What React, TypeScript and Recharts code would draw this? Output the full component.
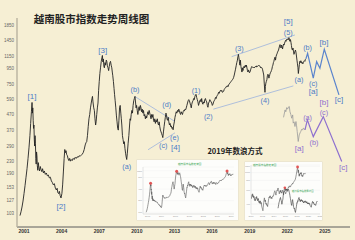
import React from "react";
import { LineChart, Line, XAxis, YAxis, CartesianGrid, ReferenceDot } from "recharts";

type Pt = [number, number];
type Lbl = [string, number, number];

// weekly close of the VN-Index
const vnIndex: Pt[] = [
  [2000.68, 100], [2000.76, 106], [2000.84, 114], [2000.92, 125], [2001.0, 140], [2001.08, 158], [2001.16, 180],
  [2001.24, 205], [2001.32, 240], [2001.4, 285], [2001.47, 340], [2001.53, 410], [2001.59, 490], [2001.64, 565],
  [2001.67, 480], [2001.7, 520], [2001.73, 430], [2001.76, 380], [2001.79, 400], [2001.82, 320], [2001.85, 290],
  [2001.88, 340], [2001.91, 300], [2001.94, 240], [2001.97, 220], [2002.0, 265], [2002.03, 250], [2002.06, 215],
  [2002.1, 200], [2002.14, 225], [2002.18, 210], [2002.24, 198], [2002.3, 212], [2002.36, 202], [2002.42, 196],
  [2002.48, 205], [2002.55, 192], [2002.62, 198], [2002.7, 188], [2002.78, 192], [2002.86, 184], [2002.94, 186],
  [2003.02, 178], [2003.1, 180], [2003.18, 170], [2003.26, 166], [2003.34, 160], [2003.42, 163], [2003.5, 152],
  [2003.58, 148], [2003.64, 152], [2003.7, 142], [2003.76, 140], [2003.82, 145], [2003.88, 136], [2003.95, 131],
  [2004.02, 140], [2004.08, 160], [2004.14, 195], [2004.2, 240], [2004.25, 275], [2004.3, 262], [2004.35, 270],
  [2004.4, 255], [2004.46, 250], [2004.52, 238], [2004.58, 232], [2004.64, 240], [2004.7, 230], [2004.76, 236],
  [2004.84, 232], [2004.92, 240], [2005.0, 236], [2005.08, 244], [2005.16, 240], [2005.24, 246], [2005.32, 244],
  [2005.4, 250], [2005.48, 248], [2005.56, 252], [2005.64, 256], [2005.72, 262], [2005.8, 275], [2005.88, 295],
  [2005.94, 305], [2006.0, 310], [2006.06, 340], [2006.12, 390], [2006.18, 440], [2006.24, 470], [2006.3, 520],
  [2006.36, 560], [2006.42, 600], [2006.46, 620], [2006.5, 570], [2006.56, 520], [2006.61, 500], [2006.66, 440],
  [2006.71, 400], [2006.75, 420], [2006.8, 470], [2006.85, 520], [2006.9, 560], [2006.95, 680], [2007.0, 780],
  [2007.05, 880], [2007.1, 960], [2007.16, 1060], [2007.22, 1130], [2007.25, 1160],
  [2007.29, 1050], [2007.33, 1100], [2007.37, 980], [2007.41, 960], [2007.46, 1040], [2007.51, 1000], [2007.56, 1080],
  [2007.6, 1060], [2007.65, 990], [2007.7, 960], [2007.75, 920], [2007.8, 980], [2007.85, 1040], [2007.9, 1060],
  [2007.95, 1000], [2008.0, 960], [2008.04, 900], [2008.08, 850], [2008.13, 780], [2008.18, 700], [2008.22, 640],
  [2008.27, 580], [2008.32, 520], [2008.37, 460], [2008.42, 420], [2008.47, 380], [2008.52, 370], [2008.57, 430],
  [2008.62, 520], [2008.67, 540], [2008.72, 480], [2008.76, 440], [2008.8, 400], [2008.85, 340], [2008.9, 320],
  [2008.95, 300], [2009.0, 310], [2009.05, 280], [2009.1, 260], [2009.15, 245], [2009.19, 236],
  [2009.24, 260], [2009.3, 300], [2009.36, 340], [2009.42, 400], [2009.46, 440], [2009.5, 430], [2009.55, 470],
  [2009.6, 500], [2009.65, 480], [2009.7, 540], [2009.75, 580], [2009.8, 600], [2009.85, 620],
  [2009.9, 560], [2009.94, 520], [2009.98, 540], [2010.03, 500], [2010.08, 470], [2010.13, 510], [2010.18, 530],
  [2010.23, 500], [2010.28, 540], [2010.33, 520], [2010.38, 490], [2010.43, 510], [2010.48, 480], [2010.53, 500],
  [2010.58, 460], [2010.63, 470], [2010.68, 440], [2010.73, 460], [2010.78, 445], [2010.83, 470], [2010.88, 490],
  [2010.93, 470], [2010.98, 500], [2011.03, 480], [2011.08, 460], [2011.13, 440], [2011.18, 470], [2011.23, 450],
  [2011.28, 470], [2011.33, 430], [2011.38, 420], [2011.43, 440], [2011.48, 410], [2011.53, 430], [2011.58, 420],
  [2011.63, 440], [2011.68, 410], [2011.73, 400], [2011.78, 420], [2011.83, 390], [2011.88, 370], [2011.93, 360],
  [2011.98, 350], [2012.03, 340], [2012.07, 330],
  [2012.12, 360], [2012.17, 390], [2012.22, 420], [2012.27, 450], [2012.32, 480], [2012.36, 470], [2012.4, 440],
  [2012.45, 430], [2012.5, 450], [2012.55, 420], [2012.6, 400], [2012.65, 410], [2012.7, 390], [2012.75, 395],
  [2012.8, 380], [2012.85, 385], [2012.89, 372],
  [2012.94, 400], [2012.99, 420], [2013.04, 450], [2013.09, 470], [2013.14, 490], [2013.19, 480], [2013.24, 500],
  [2013.29, 490], [2013.34, 510], [2013.39, 500], [2013.44, 480], [2013.49, 470], [2013.54, 490], [2013.59, 480],
  [2013.64, 470], [2013.69, 490], [2013.74, 500], [2013.79, 495], [2013.84, 510], [2013.89, 505], [2013.94, 520],
  [2013.99, 540], [2014.04, 560], [2014.09, 580], [2014.14, 590], [2014.19, 580], [2014.24, 560], [2014.29, 540],
  [2014.34, 520], [2014.38, 550], [2014.43, 570], [2014.48, 580], [2014.53, 600], [2014.58, 590], [2014.63, 620],
  [2014.68, 635], [2014.72, 640],
  [2014.77, 610], [2014.82, 590], [2014.87, 570], [2014.92, 540], [2014.97, 560], [2015.02, 580], [2015.07, 590],
  [2015.12, 570], [2015.17, 600], [2015.22, 560], [2015.27, 550], [2015.32, 570], [2015.37, 560], [2015.42, 590],
  [2015.47, 600], [2015.52, 580], [2015.57, 570], [2015.62, 540], [2015.67, 525], [2015.72, 560], [2015.77, 570],
  [2015.82, 590], [2015.87, 580], [2015.92, 570], [2015.97, 560], [2016.02, 540], [2016.07, 550], [2016.12, 570],
  [2016.17, 580], [2016.22, 590], [2016.27, 610], [2016.32, 600], [2016.37, 620], [2016.42, 630], [2016.47, 640],
  [2016.52, 660], [2016.57, 650], [2016.62, 670], [2016.67, 680], [2016.72, 670], [2016.77, 680], [2016.82, 660],
  [2016.87, 665], [2016.92, 670], [2016.97, 690], [2017.02, 700], [2017.07, 710], [2017.12, 720], [2017.17, 715],
  [2017.22, 730], [2017.27, 720], [2017.32, 740], [2017.37, 750], [2017.42, 760], [2017.47, 770], [2017.52, 780],
  [2017.57, 790], [2017.62, 800], [2017.67, 810], [2017.72, 830], [2017.77, 860], [2017.82, 900], [2017.87, 940],
  [2017.92, 990], [2017.97, 1040], [2018.02, 1080], [2018.06, 1140], [2018.1, 1180],
  [2018.14, 1120], [2018.18, 1060], [2018.22, 1000], [2018.26, 1080], [2018.3, 980], [2018.34, 940], [2018.38, 900],
  [2018.42, 960], [2018.46, 920], [2018.5, 950], [2018.54, 980], [2018.58, 960], [2018.62, 990], [2018.66, 1000],
  [2018.7, 970], [2018.74, 1000], [2018.78, 960], [2018.82, 920], [2018.86, 900], [2018.9, 930], [2018.94, 910],
  [2018.98, 890], [2019.02, 900], [2019.07, 930], [2019.12, 960], [2019.17, 980], [2019.22, 970], [2019.27, 960],
  [2019.32, 970], [2019.37, 960], [2019.42, 975], [2019.47, 980], [2019.52, 970], [2019.57, 990], [2019.62, 980],
  [2019.67, 990], [2019.72, 1000], [2019.77, 990], [2019.82, 985], [2019.87, 960], [2019.92, 970], [2019.97, 960],
  [2020.02, 940], [2020.07, 900], [2020.12, 860], [2020.16, 760], [2020.2, 680], [2020.22, 660],
  [2020.25, 720], [2020.29, 760], [2020.33, 780], [2020.37, 800], [2020.41, 850], [2020.45, 870], [2020.49, 860],
  [2020.53, 820], [2020.57, 840], [2020.61, 870], [2020.65, 890], [2020.69, 900], [2020.73, 920], [2020.77, 940],
  [2020.81, 980], [2020.85, 1000], [2020.89, 1040], [2020.93, 1060], [2020.97, 1100], [2021.02, 1130], [2021.06, 1080],
  [2021.1, 1140], [2021.14, 1170], [2021.18, 1190], [2021.22, 1220], [2021.26, 1240], [2021.3, 1260], [2021.34, 1300],
  [2021.38, 1340], [2021.42, 1370], [2021.46, 1330], [2021.5, 1300], [2021.54, 1360], [2021.58, 1330], [2021.62, 1280],
  [2021.66, 1340], [2021.7, 1380], [2021.74, 1360], [2021.78, 1400], [2021.82, 1430], [2021.86, 1460], [2021.9, 1440],
  [2021.94, 1480], [2021.98, 1470], [2022.02, 1490], [2022.06, 1500], [2022.1, 1480], [2022.13, 1525],
  [2022.17, 1470], [2022.21, 1440], [2022.25, 1480], [2022.29, 1420], [2022.33, 1350], [2022.37, 1280], [2022.41, 1260],
  [2022.45, 1300], [2022.49, 1240], [2022.53, 1180], [2022.57, 1200], [2022.61, 1240], [2022.65, 1260], [2022.69, 1220],
  [2022.73, 1150], [2022.77, 1080], [2022.81, 1020], [2022.85, 960], [2022.88, 880], [2022.92, 940], [2022.96, 1010],
  [2023.0, 1060], [2023.04, 1040], [2023.08, 1070], [2023.12, 1050], [2023.16, 1030], [2023.2, 1040], [2023.24, 1020],
  [2023.28, 1050], [2023.32, 1060], [2023.36, 1070], [2023.4, 1060], [2023.44, 1090], [2023.48, 1100],
];

const yearTicks = [2001, 2004, 2007, 2010, 2013, 2016, 2019, 2022, 2025];
const valueTicks = [103, 127, 153, 190, 230, 290, 370, 470, 590, 750, 950, 1150, 1450, 1850];

// projected paths
const blueWave: Pt[] = [[2023.48, 1100], [2023.62, 1200], [2024.07, 820], [2024.34, 1055], [2024.6, 955], [2024.95, 1276], [2026.12, 635]];
const purpleWave: Pt[] = [[2023.41, 371], [2023.6, 433], [2024.07, 335], [2024.87, 455], [2026.34, 229]];
const count2019: Pt[] = [
  [2021.7, 450], [2021.82, 504], [2021.88, 490], [2021.95, 522], [2022.02, 510], [2022.1, 528], [2022.16, 531],
  [2022.21, 491], [2022.28, 470], [2022.35, 444], [2022.43, 467], [2022.47, 412], [2022.54, 420], [2022.61, 391],
  [2022.69, 422], [2022.74, 395], [2022.79, 362], [2022.87, 311], [2022.95, 344], [2023.02, 355], [2023.07, 362],
  [2023.15, 375], [2023.22, 370], [2023.27, 381], [2023.35, 378], [2023.41, 371],
];

// trend lines
const channelTop: Pt[] = [[2017.56, 1139], [2022.61, 1588]];
const channelBottom: Pt[] = [[2016.1, 510], [2022.48, 728]];
const triangleTop: Pt[] = [[2009.85, 618], [2013.04, 422]];
const triangleBottom: Pt[] = [[2010.89, 274], [2013.04, 355]];

// wave labels: text, year, value
const blueLabels: Lbl[] = [
  ["[1]", 2001.64, 615], ["[2]", 2003.95, 114.5], ["[3]", 2007.28, 1249], ["[4]", 2013.08, 284], ["[5]", 2022.07, 1937],
  ["(a)", 2009.19, 212], ["(b)", 2009.85, 685], ["(c)", 2012.11, 291], ["(d)", 2012.38, 544], ["(e)", 2013.0, 332],
  ["(1)", 2014.72, 677], ["(2)", 2015.7, 453], ["(3)", 2018.17, 1296], ["(4)", 2020.22, 579], ["(5)", 2022.07, 1649],
  ["(a)", 2022.93, 798], ["(b)", 2023.62, 1311], ["(c)", 2024.07, 756], ["[a]", 2024.07, 667], ["[b]", 2024.92, 1412],
  ["[c]", 2026.12, 588],
];
const purpleLabels: Lbl[] = [
  ["[a]", 2022.95, 278], ["(a)", 2023.62, 449], ["(b)", 2024.13, 308], ["(c)", 2024.92, 485], ["[b]", 2024.92, 566],
  ["[c]", 2026.46, 209],
];

// the two small pictures
const insetPeaks: Pt[] = [[2001.64, 565], [2007.25, 1160], [2018.1, 1180]];
const leftInsetYears = [2001, 2004, 2007, 2010, 2013, 2016, 2019];
const leftInsetValues = [100, 200, 400, 800, 1200];
const rightInsetYears = [2010, 2012, 2014, 2016, 2018, 2020, 2022];
const rightInsetValues = [400, 600, 800, 1000, 1200];

const rows = (pts: Pt[]) => pts.map(([x, v]) => ({ x, v }));
const labelRows = (l: Lbl[]) => l.map(([t, x, v]) => ({ t, x, v }));
const between = (a: number, b: number) => rows(vnIndex.filter(([x]) => x >= a && x <= b));

const BG = "#f6efd4";
const BLUE = "#4d7cc7";
const PURPLE = "#8e70cf";
const TREND = "#9cb2dd";
const GREEN = "#3ea85a";
const SANS = "Liberation Sans, Arial, sans-serif";
const CJK = "Noto Sans CJK SC, sans-serif";

function waveLabel(color: string) {
  return (p: any) => {
    const t: string = p.payload.t;
    return (
      <text
        key={`w-${color}-${p.index}`}
        x={p.cx}
        y={p.cy}
        textAnchor="middle"
        dominantBaseline="central"
        fill={color}
        fontSize={t.startsWith("[") ? 8 : 7.2}
        fontFamily={SANS}
      >
        {t}
      </text>
    );
  };
}

const tinyTick = { fontSize: 2.3, fill: "#999", fontFamily: SANS };

function LeftInset() {
  return (
    <div style={{ position: "absolute", left: 137, top: 160, width: 101, height: 60, background: "#fdfdfb", boxShadow: "0 0 0 0.5px #e2ddcc" }}>
      <LineChart width={101} height={60} margin={{ top: 7, right: 4, bottom: 1, left: 0 }}>
        <CartesianGrid vertical={false} stroke="#f0f0f0" strokeWidth={0.4} />
        <XAxis type="number" dataKey="x" domain={[2000, 2019.6]} ticks={leftInsetYears} interval={0} allowDataOverflow height={5}
          tickLine={false} tickSize={0} tickMargin={1} axisLine={{ stroke: "#ccc", strokeWidth: 0.5 }} tick={tinyTick} />
        <YAxis type="number" scale="log" domain={[90, 1500]} ticks={leftInsetValues} interval={0} allowDataOverflow width={6}
          tickLine={false} tickSize={0} tickMargin={1} axisLine={{ stroke: "#ccc", strokeWidth: 0.5 }} tick={tinyTick} />
        <Line data={between(2000, 2019.5)} dataKey="v" stroke="#555" strokeWidth={0.6} dot={false} isAnimationActive={false} />
        {insetPeaks.map(([x, v]) => (
          <ReferenceDot key={x} x={x} y={v} r={1.5} fill="#e25555" stroke="none" />
        ))}
      </LineChart>
      <svg width={101} height={60} style={{ position: "absolute", left: 0, top: 0 }}>
        <text x={41} y={4.5} fontSize={2.6} fill={GREEN} fontFamily={CJK}>越南股市指数走势图</text>
      </svg>
    </div>
  );
}

function RightInset() {
  return (
    <div style={{ position: "absolute", left: 245, top: 162, width: 77, height: 58, background: "#fdfdfb", boxShadow: "0 0 0 0.5px #e2ddcc" }}>
      <LineChart width={77} height={58} margin={{ top: 3, right: 2, bottom: 1, left: 0 }}>
        <CartesianGrid vertical={false} stroke="#eeeeee" strokeWidth={0.4} />
        <XAxis type="number" dataKey="x" domain={[2010, 2022]} ticks={rightInsetYears} interval={0} allowDataOverflow height={5}
          tickLine={false} tickSize={0} tickMargin={1} axisLine={{ stroke: "#ccc", strokeWidth: 0.5 }} tick={tinyTick} />
        <YAxis type="number" scale="log" domain={[300, 1250]} ticks={rightInsetValues} interval={0} allowDataOverflow width={6}
          tickLine={false} tickSize={0} tickMargin={1} axisLine={{ stroke: "#ccc", strokeWidth: 0.5 }} tick={tinyTick} />
        <Line data={between(2010, 2019.5)} dataKey="v" stroke="#555" strokeWidth={0.6} dot={false} isAnimationActive={false} />
        <ReferenceDot x={insetPeaks[2][0]} y={insetPeaks[2][1]} r={1.4} fill="#e25555" stroke="none" />
      </LineChart>
      <div style={{ position: "absolute", left: 31, top: 21, width: 45, height: 34 }}>
        <LineChart width={45} height={34} margin={{ top: 3, right: 2, bottom: 2, left: 2 }}>
          <XAxis type="number" dataKey="x" domain={[2006, 2013.5]} hide />
          <YAxis type="number" scale="log" domain={[200, 1300]} allowDataOverflow hide />
          <Line data={between(2006, 2013.2)} dataKey="v" stroke="#333" strokeWidth={0.6} dot={false} isAnimationActive={false} />
          <ReferenceDot x={insetPeaks[1][0]} y={insetPeaks[1][1]} r={1.3} fill="#e25555" stroke="none" />
        </LineChart>
      </div>
      <svg width={77} height={58} style={{ position: "absolute", left: 0, top: 0 }}>
        <text x={8} y={4} fontSize={2.6} fill={GREEN} fontFamily={CJK}>越南股市指数走势图</text>
        <text x={47} y={30} fontSize={2.4} fill={GREEN} fontFamily={CJK}>越南股市指数周线图</text>
      </svg>
    </div>
  );
}

export default function App() {
  return (
    <div style={{ position: "absolute", left: 0, top: 0, width: 355, height: 240, background: BG, overflow: "hidden" }}>
      <LineChart width={355} height={240} margin={{ top: 18, right: 5, bottom: 0, left: 0 }}>
        <XAxis type="number" dataKey="x" domain={[2000.44, 2027]} ticks={yearTicks} interval={0} allowDataOverflow height={13}
          tickLine={false} tickSize={0} tickMargin={2} axisLine={{ stroke: "#5c5c5c", strokeWidth: 1 }}
          tick={{ fontSize: 5, fill: "#333", fontWeight: 700, fontFamily: SANS }} />
        <YAxis type="number" scale="log" domain={[84, 2058]} ticks={valueTicks} interval={0} allowDataOverflow width={17}
          tickLine={false} tickSize={0} tickMargin={3} axisLine={{ stroke: "#b9b3a0", strokeWidth: 1.4 }}
          tick={{ fontSize: 4.5, fill: "#666", fontFamily: SANS }} />
        <Line data={rows(triangleTop)} dataKey="v" stroke={TREND} strokeWidth={0.8} dot={false} isAnimationActive={false} />
        <Line data={rows(triangleBottom)} dataKey="v" stroke={TREND} strokeWidth={0.8} dot={false} isAnimationActive={false} />
        <Line data={rows(channelTop)} dataKey="v" stroke={TREND} strokeWidth={0.8} dot={false} isAnimationActive={false} />
        <Line data={rows(channelBottom)} dataKey="v" stroke={TREND} strokeWidth={0.8} dot={false} isAnimationActive={false} />
        <Line data={rows(count2019)} dataKey="v" stroke="#9a9a9a" strokeWidth={0.8} dot={false} isAnimationActive={false} />
        <Line data={rows(vnIndex)} dataKey="v" stroke="#222" strokeWidth={0.9} dot={false} isAnimationActive={false} />
        <Line data={rows(blueWave)} dataKey="v" stroke="#5a84cd" strokeWidth={1.2} dot={false} isAnimationActive={false} />
        <Line data={rows(purpleWave)} dataKey="v" stroke={PURPLE} strokeWidth={1.2} dot={false} isAnimationActive={false} />
        <Line data={labelRows(blueLabels)} dataKey="v" stroke="none" dot={waveLabel(BLUE)} activeDot={false} isAnimationActive={false} />
        <Line data={labelRows(purpleLabels)} dataKey="v" stroke="none" dot={waveLabel(PURPLE)} activeDot={false} isAnimationActive={false} />
      </LineChart>
      <svg width={355} height={240} style={{ position: "absolute", left: 0, top: 0, pointerEvents: "none" }}>
        <text x={91.5} y={18.5} textAnchor="middle" dominantBaseline="central" fontSize={10.5} fontWeight={700} fill="#222" fontFamily={CJK}>
          越南股市指数走势周线图
        </text>
        <text x={235} y={150} textAnchor="middle" dominantBaseline="central" fontSize={7.5} fontWeight={700} fill="#222" fontFamily={CJK}>
          2019年数浪方式
        </text>
      </svg>
      <LeftInset />
      <RightInset />
    </div>
  );
}
